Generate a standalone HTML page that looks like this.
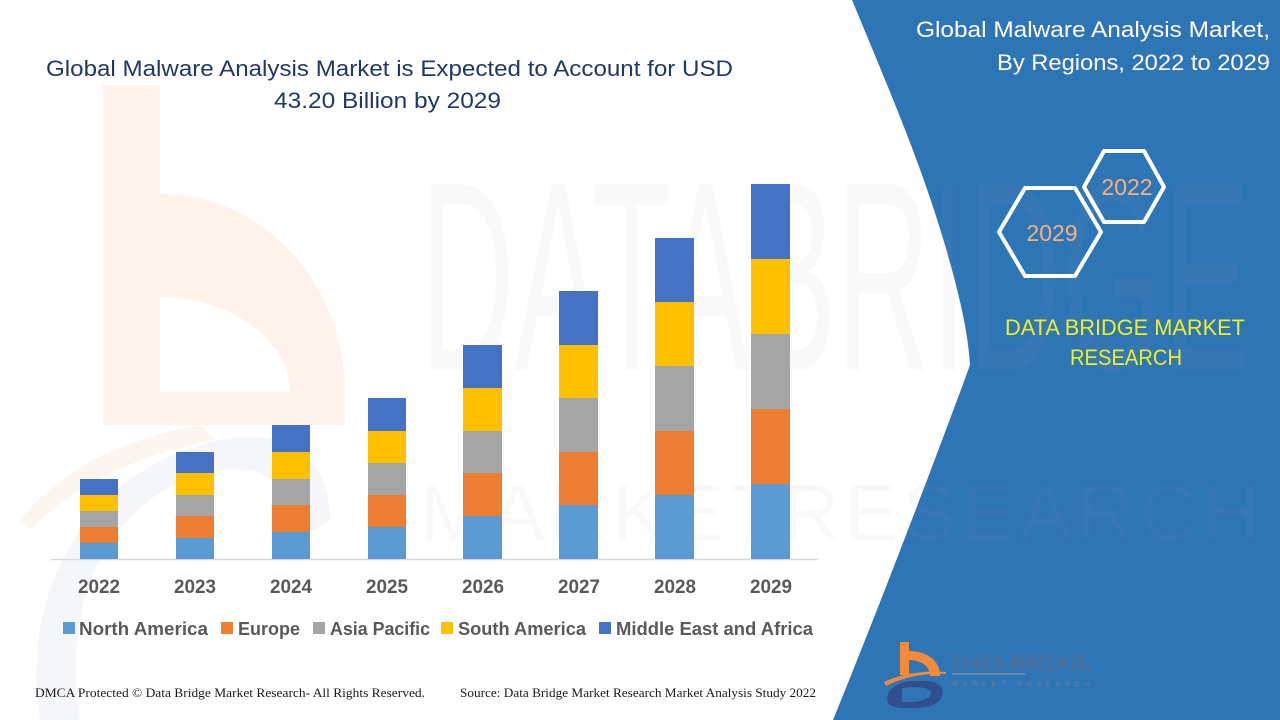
<!DOCTYPE html>
<html><head><meta charset="utf-8"><style>
html,body{margin:0;padding:0;background:#fff;}
svg{display:block;}
</style></head><body>
<svg width="1280" height="720" viewBox="0 0 1280 720" xmlns="http://www.w3.org/2000/svg">
<rect x="0" y="0" width="1280" height="720" fill="#ffffff"/>
<!-- faint watermark b -->
<rect x="103" y="85" width="57" height="340" fill="#fdf3ec"/>
<path d="M160,194 C265,194 345,285 345,392 L345,425 L160,425 Z" fill="#fdf3ec"/>
<path d="M160,297 C230,297 290,340 290,392 L160,392 Z" fill="#ffffff"/>
<path d="M20,520 C60,470 120,440 200,425 L215,440 C140,455 80,480 30,530 Z" fill="#fdf5f0"/>
<path d="M40,720 C20,600 80,470 220,440 C300,425 330,470 330,520 L300,540 C300,490 270,465 220,470 C110,490 60,600 80,720 Z" fill="#f4f6f9"/>
<!-- blue panel -->
<path d="M852,0 C885,80 920,160 945,245 C958,290 968,330 970,365 C950,420 890,580 833,720 L1280,720 L1280,0 Z" fill="#2e75b6"/>
<!-- faint big watermark text -->
<text x="420" y="370" font-family="Liberation Sans, sans-serif" font-size="270" textLength="830" lengthAdjust="spacingAndGlyphs" fill="#a0a0a0" opacity="0.06">DATABRIDGE</text>
<text x="420" y="540" font-family="Liberation Sans, sans-serif" font-size="80" textLength="840" lengthAdjust="spacing" fill="#a0a0a0" opacity="0.05">MARKETRESEARCH</text>

<!-- title -->
<text x="46" y="76" font-family="Liberation Sans, sans-serif" font-size="22" fill="#203864" textLength="687" lengthAdjust="spacingAndGlyphs">Global Malware Analysis Market is Expected to Account for USD</text>
<text x="274" y="108" font-family="Liberation Sans, sans-serif" font-size="22" fill="#203864" textLength="227" lengthAdjust="spacingAndGlyphs">43.20 Billion by 2029</text>

<!-- axis -->
<line x1="51" y1="559.5" x2="818" y2="559.5" stroke="#d9d9d9" stroke-width="1.5"/>

<!-- bars -->
<g>
<rect x="80" y="543" width="38" height="16" fill="#5b9bd5"/>
<rect x="80" y="527" width="38" height="16" fill="#ed7d31"/>
<rect x="80" y="511" width="38" height="16" fill="#a5a5a5"/>
<rect x="80" y="495" width="38" height="16" fill="#ffc000"/>
<rect x="80" y="479" width="38" height="16" fill="#4472c4"/>
<rect x="176" y="538" width="38" height="21" fill="#5b9bd5"/>
<rect x="176" y="516" width="38" height="22" fill="#ed7d31"/>
<rect x="176" y="495" width="38" height="21" fill="#a5a5a5"/>
<rect x="176" y="473" width="38" height="22" fill="#ffc000"/>
<rect x="176" y="452" width="38" height="21" fill="#4472c4"/>
<rect x="272" y="532" width="38" height="27" fill="#5b9bd5"/>
<rect x="272" y="505" width="38" height="27" fill="#ed7d31"/>
<rect x="272" y="479" width="38" height="26" fill="#a5a5a5"/>
<rect x="272" y="452" width="38" height="27" fill="#ffc000"/>
<rect x="272" y="425" width="38" height="27" fill="#4472c4"/>
<rect x="368" y="527" width="38" height="32" fill="#5b9bd5"/>
<rect x="368" y="495" width="38" height="32" fill="#ed7d31"/>
<rect x="368" y="463" width="38" height="32" fill="#a5a5a5"/>
<rect x="368" y="431" width="38" height="32" fill="#ffc000"/>
<rect x="368" y="398" width="38" height="33" fill="#4472c4"/>
<rect x="463" y="516" width="39" height="43" fill="#5b9bd5"/>
<rect x="463" y="473" width="39" height="43" fill="#ed7d31"/>
<rect x="463" y="431" width="39" height="42" fill="#a5a5a5"/>
<rect x="463" y="388" width="39" height="43" fill="#ffc000"/>
<rect x="463" y="345" width="39" height="43" fill="#4472c4"/>
<rect x="559" y="505" width="39" height="54" fill="#5b9bd5"/>
<rect x="559" y="452" width="39" height="53" fill="#ed7d31"/>
<rect x="559" y="398" width="39" height="54" fill="#a5a5a5"/>
<rect x="559" y="345" width="39" height="53" fill="#ffc000"/>
<rect x="559" y="291" width="39" height="54" fill="#4472c4"/>
<rect x="655" y="495" width="39" height="64" fill="#5b9bd5"/>
<rect x="655" y="431" width="39" height="64" fill="#ed7d31"/>
<rect x="655" y="366" width="39" height="65" fill="#a5a5a5"/>
<rect x="655" y="302" width="39" height="64" fill="#ffc000"/>
<rect x="655" y="238" width="39" height="64" fill="#4472c4"/>
<rect x="751" y="484" width="39" height="75" fill="#5b9bd5"/>
<rect x="751" y="409" width="39" height="75" fill="#ed7d31"/>
<rect x="751" y="334" width="39" height="75" fill="#a5a5a5"/>
<rect x="751" y="259" width="39" height="75" fill="#ffc000"/>
<rect x="751" y="184" width="39" height="75" fill="#4472c4"/>
</g>

<!-- year labels -->
<g font-family="Liberation Sans, sans-serif" font-size="19" font-weight="bold" fill="#595959">
<text x="78" y="593" textLength="42" lengthAdjust="spacingAndGlyphs">2022</text>
<text x="174" y="593" textLength="42" lengthAdjust="spacingAndGlyphs">2023</text>
<text x="270" y="593" textLength="42" lengthAdjust="spacingAndGlyphs">2024</text>
<text x="366" y="593" textLength="42" lengthAdjust="spacingAndGlyphs">2025</text>
<text x="462" y="593" textLength="42" lengthAdjust="spacingAndGlyphs">2026</text>
<text x="558" y="593" textLength="42" lengthAdjust="spacingAndGlyphs">2027</text>
<text x="654" y="593" textLength="42" lengthAdjust="spacingAndGlyphs">2028</text>
<text x="750" y="593" textLength="42" lengthAdjust="spacingAndGlyphs">2029</text>
</g>

<!-- legend -->
<g font-family="Liberation Sans, sans-serif" font-size="18" font-weight="bold" fill="#595959">
<rect x="63" y="622" width="12" height="12" fill="#5b9bd5"/>
<text x="79" y="635" textLength="129" lengthAdjust="spacingAndGlyphs">North America</text>
<rect x="221" y="622" width="12" height="12" fill="#ed7d31"/>
<text x="238" y="635" textLength="62" lengthAdjust="spacingAndGlyphs">Europe</text>
<rect x="313" y="622" width="12" height="12" fill="#a5a5a5"/>
<text x="330" y="635" textLength="100" lengthAdjust="spacingAndGlyphs">Asia Pacific</text>
<rect x="441" y="622" width="12" height="12" fill="#ffc000"/>
<text x="458" y="635" textLength="128" lengthAdjust="spacingAndGlyphs">South America</text>
<rect x="599" y="622" width="12" height="12" fill="#4472c4"/>
<text x="616" y="635" textLength="197" lengthAdjust="spacingAndGlyphs">Middle East and Africa</text>
</g>

<!-- footer -->
<text x="35" y="697" font-family="Liberation Serif, serif" font-size="13" fill="#1a1a1a" textLength="390" lengthAdjust="spacingAndGlyphs">DMCA Protected © Data Bridge Market Research- All Rights Reserved.</text>
<text x="460" y="697" font-family="Liberation Serif, serif" font-size="13" fill="#1a1a1a" textLength="356" lengthAdjust="spacingAndGlyphs">Source: Data Bridge Market Research Market Analysis Study 2022</text>

<!-- right panel title -->
<text x="916" y="37" font-family="Liberation Sans, sans-serif" font-size="22" fill="#ffffff" textLength="354" lengthAdjust="spacingAndGlyphs">Global Malware Analysis Market,</text>
<text x="997" y="70" font-family="Liberation Sans, sans-serif" font-size="22" fill="#ffffff" textLength="273" lengthAdjust="spacingAndGlyphs">By Regions, 2022 to 2029</text>

<!-- hexagons -->
<polygon points="1084,187 1104,151 1144,151 1164,187 1144,222 1104,222" fill="none" stroke="#ffffff" stroke-width="4" stroke-linejoin="round"/>
<polygon points="999,232 1025,188 1075,188 1101,232 1075,276 1025,276" fill="none" stroke="#ffffff" stroke-width="4" stroke-linejoin="round"/>
<text x="1127" y="195" text-anchor="middle" font-family="Liberation Sans, sans-serif" font-size="23" fill="#f4b183">2022</text>
<text x="1052" y="241" text-anchor="middle" font-family="Liberation Sans, sans-serif" font-size="23" fill="#f4b183">2029</text>

<!-- yellow brand text -->
<text x="1005" y="335" font-family="Liberation Sans, sans-serif" font-size="22" fill="#f0f020" textLength="240" lengthAdjust="spacingAndGlyphs">DATA BRIDGE MARKET</text>
<text x="1070" y="365" font-family="Liberation Sans, sans-serif" font-size="22" fill="#f0f020" textLength="112" lengthAdjust="spacingAndGlyphs">RESEARCH</text>

<!-- logo -->
<rect x="900" y="642" width="9" height="33" fill="#f58a3a"/>
<path d="M908,651 C928,651 940,661 940,676 L930,676 C930,666 921,660 908,660 Z" fill="#f58a3a"/>
<path d="M884,682 C900,674 925,670 946,672 L946,674 C925,673 903,677 886,686 Z" fill="#f58a3a"/>
<path d="M888,703 C884,692 895,682 912,681 L928,681 C942,682 946,692 940,700 C934,707 920,709 905,708 C896,708 890,706 888,703 Z M902,688 L902,702 C915,703 930,700 931,694 C932,689 924,687 912,687 Z" fill="#2f4f8f" fill-rule="evenodd"/>
<text x="952" y="670" font-family="Liberation Serif, serif" font-size="22" fill="#566a8c" textLength="138" lengthAdjust="spacingAndGlyphs">DATA BRIDGE</text>
<line x1="952" y1="674" x2="1025" y2="674" stroke="#7f8fb0" stroke-width="1.5"/>
<text x="952" y="686" font-family="Liberation Sans, sans-serif" font-size="7" fill="#6c7c9c" textLength="138" lengthAdjust="spacing">MARKET RESEARCH</text>
</svg>
</body></html>
